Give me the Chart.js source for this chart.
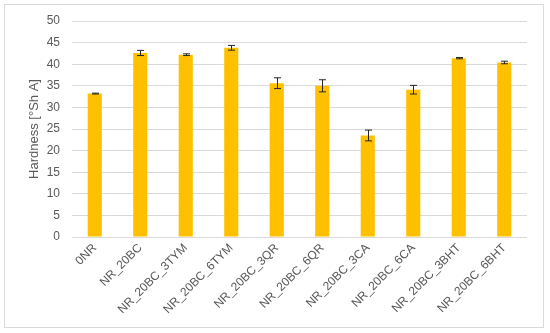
<!DOCTYPE html>
<html>
<head>
<meta charset="utf-8">
<script src="https://cdn.jsdelivr.net/npm/chart.js@4.4.1/dist/chart.umd.min.js"></script>
<style>
  body { margin: 0; background: #fff; }
  #wrap { position: relative; width: 550px; height: 333px; }
  #frame { position: absolute; left: 4px; top: 4px; width: 538px; height: 322px; border: 1px solid #d9d9d9; }
  canvas { position: absolute; left: 0; top: 0; }
</style>
</head>
<body>
<div id="wrap">
  <div id="frame"></div>
  <canvas id="hardnessChart" width="550" height="333"></canvas>
</div>
<script>
// Hardness data
var samples = ['0NR', 'NR_20BC', 'NR_20BC_3TYM', 'NR_20BC_6TYM', 'NR_20BC_3QR',
    'NR_20BC_6QR', 'NR_20BC_3CA', 'NR_20BC_6CA', 'NR_20BC_3BHT', 'NR_20BC_6BHT'];
var hardness = [33.2, 42.6, 42.2, 43.8, 35.6, 35.0, 23.5, 34.1, 41.4, 40.4];
var hardnessErr = [0.1, 0.6, 0.2, 0.55, 1.25, 1.4, 1.25, 1.0, 0.15, 0.3];

var textColor = '#595959';
var fontFamily = "'Liberation Sans', Arial, sans-serif";

// draws the error bars using the chart's own scales
var errorBars = {
    id: 'errorBars',
    afterDatasetsDraw: function(chart) {
        var ctx = chart.ctx;
        var xs = chart.scales.x, ys = chart.scales.y;
        ctx.save();
        ctx.strokeStyle = '#262626';
        ctx.lineWidth = 1;
        hardness.forEach(function(v, i) {
            var x = Math.round(xs.getPixelForValue(i)) + 0.5;
            var top = ys.getPixelForValue(v + hardnessErr[i]);
            var bot = ys.getPixelForValue(v - hardnessErr[i]);
            ctx.beginPath();
            ctx.moveTo(x, top); ctx.lineTo(x, bot);
            ctx.moveTo(x - 3.5, top); ctx.lineTo(x + 3.5, top);
            ctx.moveTo(x - 3.5, bot); ctx.lineTo(x + 3.5, bot);
            ctx.stroke();
        });
        ctx.restore();
    }
};

document.addEventListener('DOMContentLoaded', function() {
    var ctx = document.getElementById('hardnessChart').getContext('2d');
    new Chart(ctx, {
        type: 'bar',
        data: {
            labels: samples,
            datasets: [{
                data: hardness,
                backgroundColor: '#FFC000',
                barPercentage: 0.31,
                categoryPercentage: 1.0
            }]
        },
        options: {
            responsive: false,
            animation: false,
            layout: { padding: { top: 21, right: 23, bottom: 0, left: 0 } },
            plugins: {
                legend: { display: false },
                tooltip: { enabled: false }
            },
            scales: {
                x: {
                    grid: { display: false },
                    border: { display: false },
                    ticks: {
                        color: textColor,
                        font: { family: fontFamily, size: 12 },
                        minRotation: 45,
                        maxRotation: 45,
                        padding: -4
                    },
                    afterFit: function(scale) { scale.height = 96; }
                },
                y: {
                    min: 0,
                    max: 50,
                    ticks: {
                        stepSize: 5,
                        color: textColor,
                        font: { family: fontFamily, size: 12 },
                        padding: 12
                    },
                    grid: { color: '#d9d9d9', drawTicks: false },
                    border: { display: false },
                    title: {
                        display: true,
                        text: 'Hardness [°Sh A]',
                        color: textColor,
                        font: { family: fontFamily, size: 13 },
                        padding: { top: 27, bottom: 0 }
                    },
                    afterFit: function(scale) { scale.width = 72; }
                }
            }
        },
        plugins: [errorBars]
    });
});
</script>
</body>
</html>
